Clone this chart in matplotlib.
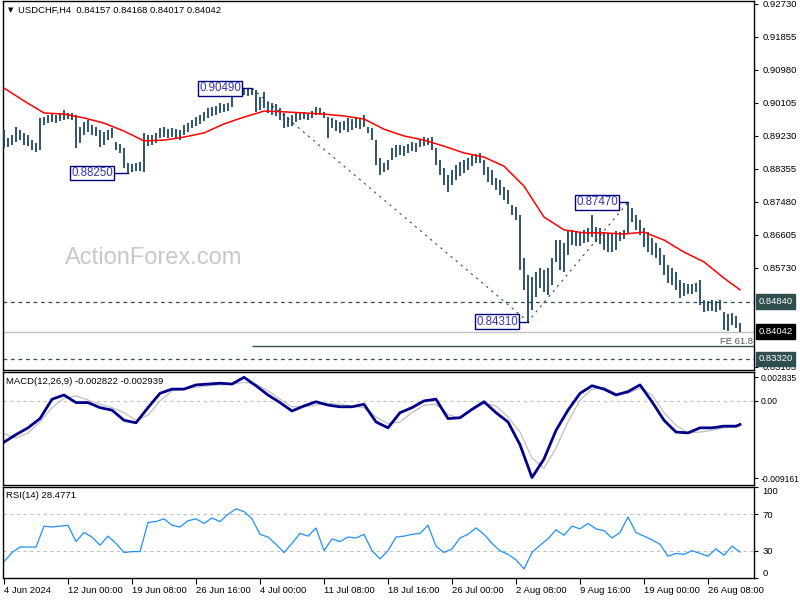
import numpy as np
import matplotlib
matplotlib.use('Agg')
import matplotlib.pyplot as plt
from matplotlib.transforms import blended_transform_factory

plt.rcParams['font.family'] = ['Liberation Sans', 'DejaVu Sans']

# 8h bars (two H4 bars each), 4 Jun 16:00 .. 29 Aug 04:00
highs = [
    0.8939, 0.8918, 0.8926, 0.8947, 0.8939, 0.8931, 0.8926, 0.8912, 0.8904, 0.8971,
    0.8973, 0.8979, 0.8981, 0.8979, 0.8984, 0.8992, 0.8984, 0.8984, 0.8979, 0.8947,
    0.8960, 0.8965, 0.8952, 0.8947, 0.8939, 0.8933, 0.8939, 0.8944, 0.8907, 0.8902,
    0.8891, 0.8851, 0.8849, 0.8851, 0.8854, 0.8931, 0.8926, 0.8926, 0.8931, 0.8944,
    0.8947, 0.8941, 0.8944, 0.8941, 0.8939, 0.8952, 0.8957, 0.8965, 0.8973, 0.8979,
    0.8987, 0.8997, 0.9000, 0.9002, 0.9010, 0.9008, 0.9010, 0.9045, 0.9050, 0.9048,
    0.9049, 0.9049, 0.9048, 0.9045, 0.9026, 0.9040, 0.9013, 0.9010, 0.9008, 0.8997,
    0.8984, 0.8973, 0.8979, 0.8984, 0.8987, 0.8987, 0.8984, 0.8989, 0.9000, 0.8997,
    0.8987, 0.8973, 0.8971, 0.8965, 0.8960, 0.8963, 0.8971, 0.8968, 0.8973, 0.8971,
    0.8979, 0.8947, 0.8944, 0.8912, 0.8864, 0.8851, 0.8859, 0.8891, 0.8899, 0.8899,
    0.8896, 0.8902, 0.8907, 0.8904, 0.8915, 0.8920, 0.8918, 0.8920, 0.8891, 0.8859,
    0.8838, 0.8820, 0.8833, 0.8846, 0.8854, 0.8859, 0.8864, 0.8872, 0.8875, 0.8878,
    0.8859, 0.8841, 0.8833, 0.8812, 0.8806, 0.8788, 0.8780, 0.8740, 0.8735, 0.8713,
    0.8599, 0.8554, 0.8549, 0.8562, 0.8573, 0.8568, 0.8573, 0.8599, 0.8647, 0.8647,
    0.8639, 0.8674, 0.8674, 0.8671, 0.8668, 0.8674, 0.8679, 0.8713, 0.8682, 0.8679,
    0.8668, 0.8666, 0.8663, 0.8671, 0.8668, 0.8674, 0.8747, 0.8732, 0.8713, 0.8700,
    0.8679, 0.8668, 0.8653, 0.8639, 0.8626, 0.8607, 0.8581, 0.8573, 0.8562, 0.8541,
    0.8533, 0.8530, 0.8530, 0.8533, 0.8541, 0.8488, 0.8485, 0.8488, 0.8485, 0.8488,
    0.8456, 0.8451, 0.8454, 0.8446, 0.8427,
]
lows = [
    0.8891, 0.8894, 0.8899, 0.8907, 0.8912, 0.8899, 0.8896, 0.8886, 0.8880, 0.8886,
    0.8952, 0.8957, 0.8960, 0.8957, 0.8963, 0.8965, 0.8968, 0.8965, 0.8891, 0.8904,
    0.8926, 0.8933, 0.8926, 0.8923, 0.8894, 0.8899, 0.8912, 0.8918, 0.8886, 0.8878,
    0.8838, 0.8825, 0.8828, 0.8830, 0.8830, 0.8828, 0.8896, 0.8899, 0.8904, 0.8918,
    0.8920, 0.8918, 0.8920, 0.8915, 0.8912, 0.8926, 0.8933, 0.8944, 0.8949, 0.8955,
    0.8963, 0.8971, 0.8976, 0.8979, 0.8984, 0.8987, 0.8989, 0.9000, 0.9026, 0.9029,
    0.9032, 0.9029, 0.9032, 0.8987, 0.8992, 0.8997, 0.8984, 0.8979, 0.8976, 0.8965,
    0.8944, 0.8947, 0.8949, 0.8960, 0.8965, 0.8968, 0.8965, 0.8971, 0.8979, 0.8979,
    0.8971, 0.8918, 0.8944, 0.8936, 0.8931, 0.8939, 0.8933, 0.8939, 0.8944, 0.8941,
    0.8947, 0.8931, 0.8912, 0.8846, 0.8820, 0.8828, 0.8833, 0.8859, 0.8867, 0.8872,
    0.8870, 0.8878, 0.8883, 0.8880, 0.8894, 0.8896, 0.8899, 0.8886, 0.8846, 0.8820,
    0.8793, 0.8774, 0.8793, 0.8806, 0.8817, 0.8825, 0.8833, 0.8843, 0.8851, 0.8851,
    0.8820, 0.8801, 0.8793, 0.8780, 0.8766, 0.8753, 0.8743, 0.8713, 0.8700, 0.8568,
    0.8515, 0.8431, 0.8462, 0.8496, 0.8520, 0.8509, 0.8501, 0.8528, 0.8589, 0.8568,
    0.8562, 0.8607, 0.8634, 0.8631, 0.8631, 0.8639, 0.8642, 0.8655, 0.8642, 0.8637,
    0.8621, 0.8615, 0.8615, 0.8621, 0.8645, 0.8650, 0.8666, 0.8695, 0.8674, 0.8661,
    0.8629, 0.8615, 0.8607, 0.8599, 0.8581, 0.8554, 0.8533, 0.8528, 0.8515, 0.8494,
    0.8499, 0.8504, 0.8504, 0.8509, 0.8475, 0.8456, 0.8459, 0.8459, 0.8456, 0.8462,
    0.8409, 0.8406, 0.8422, 0.8414, 0.8402,
]

# moving average (red), every 5 bars
ma_bars = list(range(0, 181, 5)) + [184]
ma_vals = [
    0.9050, 0.9016, 0.8984, 0.8981, 0.8971, 0.8957, 0.8936, 0.8910, 0.8912, 0.8920,
    0.8931, 0.8955, 0.8973, 0.8989, 0.8987, 0.8984, 0.8981, 0.8976, 0.8968, 0.8941,
    0.8923, 0.8912, 0.8896, 0.8878, 0.8867, 0.8843, 0.8790, 0.8708, 0.8674, 0.8666,
    0.8666, 0.8663, 0.8668, 0.8647, 0.8615, 0.8589, 0.8546, 0.8515,
]

# MACD(12,26,9), every 3 bars
macd_bars = list(range(0, 184, 3)) + [184]
macd = [
    -0.0049, -0.0040, -0.0032, -0.0021, 0.0002, 0.0007, -0.0002, -0.0002, -0.0008, -0.0011,
    -0.0023, -0.0026, -0.0008, 0.0009, 0.0014, 0.0014, 0.0019, 0.0020, 0.0021, 0.0020,
    0.0028, 0.0018, 0.0007, -0.0002, -0.0012, -0.0006, -0.0001, -0.0005, -0.0007, -0.0007,
    -0.0004, -0.0025, -0.0032, -0.0014, -0.0008, 0.0000, 0.0002, -0.0021, -0.0020, -0.0010,
    -0.0001, -0.0014, -0.0025, -0.0052, -0.0091, -0.0069, -0.0035, -0.0011, 0.0009, 0.0018,
    0.0014, 0.0007, 0.0011, 0.0019, -0.0001, -0.0023, -0.0037, -0.0038, -0.0032, -0.0032,
    -0.0030, -0.0030, -0.0028,
]
signal = [
    -0.0039, -0.0044, -0.0038, -0.0025, -0.0008, 0.0003, 0.0006, 0.0001, -0.0004, -0.0008,
    -0.0014, -0.0023, -0.0017, 0.0000, 0.0012, 0.0014, 0.0016, 0.0018, 0.0019, 0.0020,
    0.0022, 0.0020, 0.0012, 0.0002, -0.0007, -0.0007, -0.0005, -0.0003, -0.0004, -0.0006,
    -0.0008, -0.0019, -0.0027, -0.0025, -0.0014, -0.0005, -0.0004, -0.0016, -0.0021, -0.0011,
    -0.0003, -0.0006, -0.0019, -0.0037, -0.0068, -0.0080, -0.0056, -0.0025, 0.0001, 0.0014,
    0.0016, 0.0009, 0.0009, 0.0015, 0.0007, -0.0014, -0.0029, -0.0038, -0.0037, -0.0035,
    -0.0032, -0.0031, -0.0029,
]

# RSI(14), every 2 bars
rsi_bars = list(range(0, 185, 2))
rsi = [
    18, 28, 34, 34, 34, 57, 56, 57, 58, 40,
    50, 45, 36, 46, 38, 28, 29, 29, 61, 62,
    65, 58, 56, 63, 65, 60, 66, 62, 70, 76,
    73, 65, 48, 45, 37, 28, 38, 49, 46, 55,
    30, 43, 40, 45, 44, 48, 30, 21, 30, 45,
    46, 48, 49, 58, 35, 28, 32, 44, 48, 55,
    48, 38, 30, 26, 20, 10, 28, 36, 43, 53,
    47, 57, 54, 60, 54, 52, 44, 50, 67, 50,
    46, 42, 37, 24, 27, 26, 30, 27, 24, 32,
    25, 35, 28.48,
]

price_ticks = [0.92730, 0.91855, 0.90980, 0.90105, 0.89230, 0.88355, 0.87480, 0.86605, 0.85730, 0.83105]
macd_ticks = [0.002835, 0.0, -0.009161]
macd_tick_labels = ['0.002835', '0.00', '-0.009161']
rsi_ticks = [100, 70, 30, 0]

date_bars = [0, 16, 32, 48, 64, 80, 96, 112, 128, 144, 160, 176]
date_labels = ['4 Jun 2024', '12 Jun 00:00', '19 Jun 08:00', '26 Jun 16:00', '4 Jul 00:00',
               '11 Jul 08:00', '18 Jul 16:00', '26 Jul 00:00', '2 Aug 08:00', '9 Aug 16:00',
               '19 Aug 00:00', '26 Aug 08:00']

# swing points used by the fibo expansion
swing_bars = [62, 131, 156]
swing_prices = [0.9049, 0.8431, 0.8747]
level_1 = 0.8484
level_2 = 0.8332
last_price = 0.84042

W, H = 800, 600
fig = plt.figure(figsize=(8, 6), dpi=100)


def px_axes(left, top, right, bottom):
    return fig.add_axes([left / W, 1 - bottom / H, (right - left) / W, (bottom - top) / H])


ax = px_axes(3, 1, 754, 370)
ax_macd = px_axes(3, 372, 754, 485)
ax_rsi = px_axes(3, 487, 754, 578)

for a in (ax, ax_macd, ax_rsi):
    a.set_xlim(-0.25, 187.5)
    for s in a.spines.values():
        s.set_color('black')
        s.set_linewidth(1)
    a.yaxis.tick_right()
    a.tick_params(axis='y', direction='out', length=3, width=0.8, labelsize=6.8, pad=3)
    a.tick_params(axis='x', bottom=False, labelbottom=False)

# main price panel
ax.set_ylim(0.83024, 0.92809)
ax.set_yticks(price_ticks)
ax.set_yticklabels(['%.5f' % p for p in price_ticks])

fig.text(65 / W, 1 - 258 / H, 'ActionForex.com', fontsize=17, color='#c8c8c8', va='center')

bars = np.arange(len(highs))
ax.vlines(bars, lows, highs, color='#173f5c', lw=1.25, zorder=3)
ax.plot(ma_bars, ma_vals, color='red', lw=1.1, zorder=4)

ax.axhline(level_1, color='#2f4f4f', lw=0.9, ls=(0, (3, 3)), zorder=2)
ax.axhline(level_2, color='#2f4f4f', lw=0.9, ls=(0, (3, 3)), zorder=2)
ax.axhline(last_price, color='#c0c0c0', lw=1, zorder=1)

fe_level = swing_prices[2] - 0.618 * (swing_prices[0] - swing_prices[1])
ax.plot(swing_bars, swing_prices, color='#2f4f4f', lw=0.8, ls=(0, (2, 4)), zorder=2)
ax.hlines(fe_level, swing_bars[0], 187.5, color='#2f4f4f', lw=1, zorder=2)
ax.text(187.2, fe_level + 0.0002, 'FE 61.8', ha='right', va='bottom', fontsize=6.8, color='#555555')


def swing_tag(box_right, bar, price):
    ax.plot([box_right, bar], [price, price], color='#000080', lw=1, zorder=5)
    ax.text(box_right, price, '%.5f' % price, ha='right', va='center', fontsize=8.3,
            color='#3535b5', zorder=6,
            bbox=dict(boxstyle='square,pad=0.12', fc='white', ec='#000080', lw=1))


swing_tag(59.25, 62, 0.9049)
swing_tag(27.25, 31, 0.8825)
swing_tag(128.5, 131, 0.8431)
swing_tag(153.5, 156, 0.8747)

tr = blended_transform_factory(ax.transAxes, ax.transData)
for val, bg in ((level_1, '#2f4f4f'), (last_price, 'black'), (level_2, '#2f4f4f')):
    ax.text(1.006, val, '%.5f' % val, transform=tr, ha='left', va='center', fontsize=6.8,
            color='white', clip_on=False, zorder=10,
            bbox=dict(boxstyle='square,pad=0.28', fc=bg, ec=bg))

fig.text(8 / W, 1 - 10 / H, '\u25bc', fontsize=5, va='center', family='DejaVu Sans')
fig.text(18 / W, 1 - 10 / H, 'USDCHF,H4  0.84157 0.84168 0.84017 0.84042', fontsize=6.8, va='center')

# MACD panel
ax_macd.set_ylim(-0.009988, 0.003432)
ax_macd.axhline(0, color='#c0c0c0', lw=0.8, ls=(0, (3, 3)))
ax_macd.plot(macd_bars, signal, color='#c0c0c0', lw=0.9)
ax_macd.plot(macd_bars, macd, color='#00008b', lw=2.0)
ax_macd.set_yticks(macd_ticks)
ax_macd.set_yticklabels(macd_tick_labels)
ax_macd.tick_params(axis='y', labelsize=6.2, pad=2)
fig.text(6 / W, 1 - 381 / H, 'MACD(12,26,9) -0.002822 -0.002939', fontsize=6.8, va='center')

# RSI panel
ax_rsi.set_ylim(0, 100)
for lv in (70, 30):
    ax_rsi.axhline(lv, color='#c0c0c0', lw=0.8, ls=(0, (3, 3)))
ax_rsi.plot(rsi_bars, rsi, color='#1e90ff', lw=0.9)
ax_rsi.set_yticks(rsi_ticks)
ax_rsi.set_yticklabels([str(v) for v in rsi_ticks])
labels = ax_rsi.get_yticklabels()
labels[0].set_va('top')
labels[-1].set_va('bottom')
fig.text(6 / W, 1 - 496 / H, 'RSI(14) 28.4771', fontsize=6.8, va='center')

ax_rsi.tick_params(axis='x', bottom=True, labelbottom=True, direction='out', length=4,
                   width=0.8, labelsize=6.8, pad=2)
ax_rsi.set_xticks(date_bars)
ax_rsi.set_xticklabels(date_labels, ha='left')

fig.savefig('out.png', dpi=100)
